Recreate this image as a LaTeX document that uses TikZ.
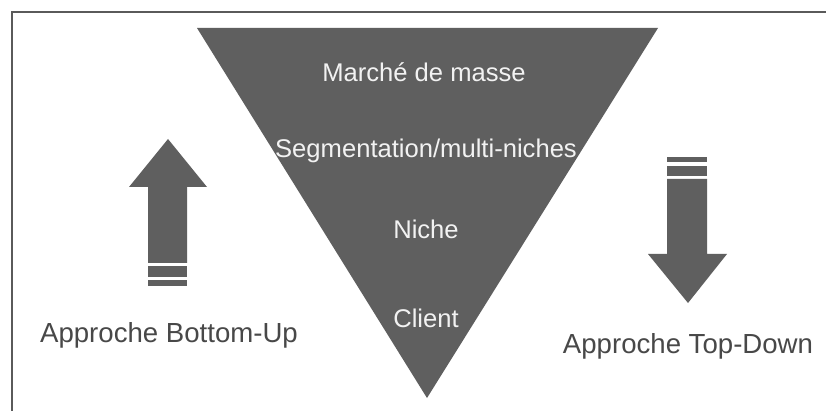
\documentclass[tikz,border=0pt]{standalone}
\usepackage{fontspec}
\setmainfont{Liberation Sans}
\usepackage{tikz}
\usetikzlibrary{positioning, calc}
\usepackage{xcolor}
\definecolor{shapegray}{RGB}{95, 95, 95}
\definecolor{framegray}{RGB}{90, 90, 90}
\definecolor{labelgray}{RGB}{72, 72, 72}
\definecolor{paletext}{RGB}{242, 242, 242}

\begin{document}
\begin{tikzpicture}[
  x=1pt, y=-1pt,
  level/.style={anchor=base, inner sep=0pt, text=paletext,
                font=\fontsize{25.6}{28}\selectfont},
  approach/.style={anchor=base, inner sep=0pt, text=labelgray,
                   font=\fontsize{27.6}{30}\selectfont},
  stripe/.style={fill=shapegray}
]
\useasboundingbox (0,0) rectangle (826,411);
\fill[white] (0,0) rectangle (826,411);

% frame
\draw[framegray, line width=2pt] (12,411) -- (12,12) -- (826,12);

% funnel
\coordinate (tl) at (197,28);
\coordinate (tr) at (658,28);
\coordinate (tip) at (427,398);
\fill[shapegray] (tl) -- (tr) -- (tip) -- cycle;

\node[level] (mass)  at (424,82)  {Marché de masse};
\node[level] (seg)   at (426,158) {Segmentation/multi-niches};
\node[level] (niche) at (426,239) {Niche};
\node[level] (cli)   at (426,327) {Client};

% bottom-up arrow
\fill[shapegray] (148,263) -- (148,187) -- (129,187) -- (168,139)
  -- (207,187) -- (187,187) -- (187,263) -- cycle;
\fill[stripe] (148,266) rectangle (187,277);
\fill[stripe] (148,280) rectangle (187,286);

% top-down arrow
\fill[shapegray] (667,179) -- (667,254) -- (648,254) -- (688,303)
  -- (727,254) -- (707,254) -- (707,179) -- cycle;
\fill[stripe] (667,166) rectangle (707,176);
\fill[stripe] (667,157) rectangle (707,162);

\node[approach] (bup) at (169,342) {Approche Bottom-Up};
\node[approach] (tdn) at (688,353) {Approche Top-Down};
\end{tikzpicture}
\end{document}
